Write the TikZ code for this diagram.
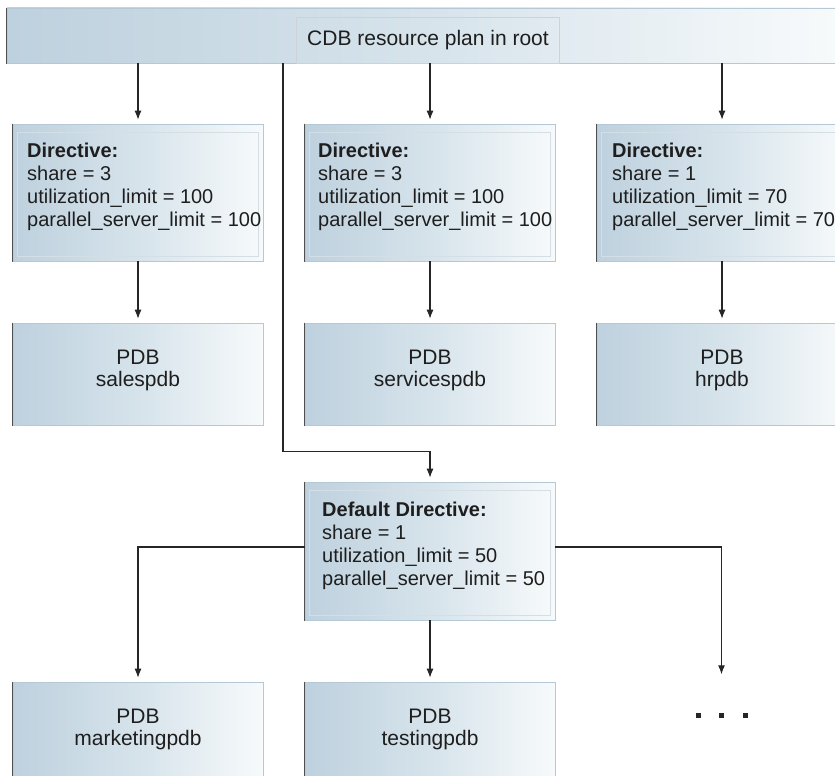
\documentclass[tikz,border=0pt]{standalone}
\usepackage{fontspec}
\setmainfont{Liberation Sans}
\usetikzlibrary{arrows.meta}

\definecolor{shadeleft}{HTML}{BED1DE}
\definecolor{shademid}{HTML}{D6E3EB}
\definecolor{shaderight}{HTML}{F7FAFB}
\definecolor{boxedge}{HTML}{B4C8D5}
\definecolor{inneredge}{HTML}{D3DEE5}
\definecolor{shadowgrey}{HTML}{505050}
\definecolor{linegrey}{HTML}{262626}
\definecolor{textgrey}{HTML}{1E1E1E}
\definecolor{titleedge}{HTML}{C9D3D9}

\begin{document}
\begin{tikzpicture}[x=1pt,y=-1pt]
	\tikzstyle{planbox}=[shape=rectangle, draw=boxedge, line width=0.6pt, left color=shadeleft, right color=shaderight, middle color=shademid, inner sep=0pt, append after command={\pgfextra{\draw[draw=shadowgrey, line width=1.4pt] (\tikzlastnode.north west) |- (\tikzlastnode.south east);}}];
	\tikzstyle{dirbox}=[planbox, minimum width=250pt, minimum height=137pt, path picture={\draw[draw=inneredge, line width=0.6pt] ([shift={(4pt,-8pt)}]path picture bounding box.north west) rectangle ([shift={(-5pt,5pt)}]path picture bounding box.south east);}];
	\tikzstyle{dirtext}=[anchor=north west, inner sep=0pt, align=left, text=textgrey, font=\fontsize{20}{23}\selectfont];
	\tikzstyle{pdbbox}=[planbox, minimum width=250pt, minimum height=102pt, align=center, text=textgrey, font=\fontsize{21}{22}\selectfont, execute at end node={\rule[-12pt]{0pt}{12pt}}];
	\tikzstyle{flow}=[draw=linegrey, line width=1.1pt, -{Latex[length=9pt,width=7pt]}, shorten >=4pt];

	\useasboundingbox (0,0) rectangle (835,776);

	\node[planbox, minimum width=828pt, minimum height=55pt] (plan) at (421,35.5) {};
	\node[draw=titleedge, line width=0.6pt, minimum width=263pt, minimum height=46pt, inner sep=0pt, text=textgrey, font=\fontsize{21}{24}\selectfont] (plantitle) at (428,40) {CDB resource plan in root};

	\node[dirbox] (dir1) at (138,192.5) {};
	\node[dirbox] (dir2) at (430,192.5) {};
	\node[dirbox] (dir3) at (722,192.5) {};

	\node[dirtext] (dir1text) at (27,143) {\textbf{Directive:}\\share = 3\\utilization\_limit = 100\\parallel\_server\_limit = 100};
	\node[dirtext] (dir2text) at (318,143) {\textbf{Directive:}\\share = 3\\utilization\_limit = 100\\parallel\_server\_limit = 100};
	\node[dirtext] (dir3text) at (612,143) {\textbf{Directive:}\\share = 1\\utilization\_limit = 70\\parallel\_server\_limit = 70};

	\node[pdbbox] (pdb1) at (138,374) {PDB\\salespdb};
	\node[pdbbox] (pdb2) at (430,374) {PDB\\servicespdb};
	\node[pdbbox] (pdb3) at (722,374) {PDB\\hrpdb};

	\node[dirbox, minimum height=138pt] (defdir) at (430,551) {};
	\node[dirtext] (defdirtext) at (322,502) {\textbf{Default Directive:}\\share = 1\\utilization\_limit = 50\\parallel\_server\_limit = 50};

	\node[pdbbox] (pdb4) at (138,733) {PDB\\marketingpdb};
	\node[pdbbox] (pdb5) at (430,733) {PDB\\testingpdb};
	\node[inner sep=0pt, text=linegrey] (more) at (721.5,715) {\rule{5pt}{5pt}\hspace{18.5pt}\rule{5pt}{5pt}\hspace{18.5pt}\rule{5pt}{5pt}};

	\coordinate (split) at (283,63);

	\draw[flow] (plan.south -| dir1.north) -- (dir1.north);
	\draw[flow] (plan.south -| dir2.north) -- (dir2.north);
	\draw[flow] (plan.south -| dir3.north) -- (dir3.north);
	\draw[flow] (split) |- ([yshift=30pt]defdir.north) -- (defdir.north);

	\draw[flow] (dir1) -- (pdb1);
	\draw[flow] (dir2) -- (pdb2);
	\draw[flow] (dir3) -- (pdb3);

	\draw[flow] ([yshift=4pt]defdir.west) -| (pdb4.north);
	\draw[flow] (defdir) -- (pdb5);
	\draw[flow] ([yshift=4pt]defdir.east) -| ([yshift=34pt]more.north);

\end{tikzpicture}
\end{document}
